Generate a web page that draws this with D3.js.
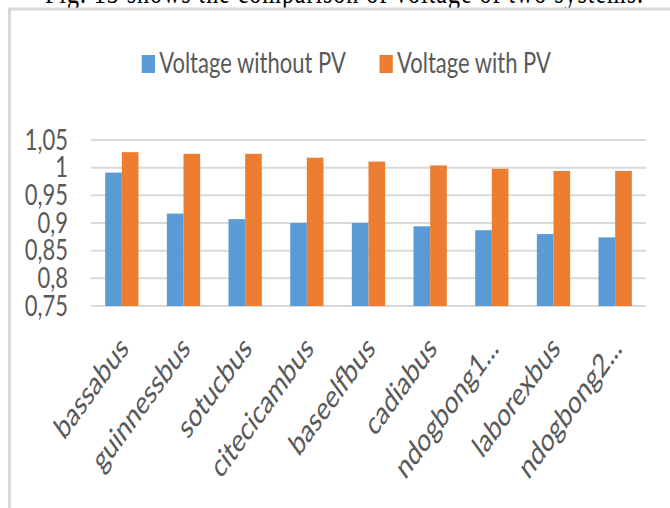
<!DOCTYPE html>
<html>
<head>
<meta charset="utf-8">
<script src="https://cdn.jsdelivr.net/npm/d3@7"></script>
<style>
  html, body { margin: 0; padding: 0; background: #fff; }
  svg { display: block; }
</style>
</head>
<body>
<svg id="chart" width="670" height="508"></svg>
<script>
const categories = ["bassabus","guinnessbus","sotucbus","citecicambus","baseelfbus","cadiabus","ndogbong1...","laborexbus","ndogbong2..."];
const seriesNames = ["Voltage without PV", "Voltage with PV"];
const withoutPV = [0.991, 0.917, 0.907, 0.900, 0.900, 0.894, 0.887, 0.880, 0.874];
const withPV    = [1.028, 1.025, 1.025, 1.018, 1.011, 1.004, 0.998, 0.994, 0.994];
const yTicks = [0.75, 0.8, 0.85, 0.9, 0.95, 1, 1.05];
const yTickLabels = ["0,75", "0,8", "0,85", "0,9", "0,95", "1", "1,05"];
const colors = ["#5B9BD5", "#ED7D31"];
const caption = "Fig. 13 shows the comparison of voltage of two systems.";

const SY = 1.32;
const FONT = "Lato, 'Open Sans', sans-serif";
const TXT = "#595959";

const svg = d3.select("#chart");
const plot = {left: 91, right: 646, top: 140, bottom: 306};

// caption (cut off at top)
svg.append("text")
  .attr("transform", `translate(45,3) scale(1,${SY})`)
  .attr("font-family", "'Liberation Serif', 'Times New Roman', serif")
  .attr("font-size", 24)
  .attr("fill", "#000")
  .attr("textLength", 598)
  .text(caption);

// frame
svg.append("path")
  .attr("d", "M9.5,508 L9.5,9 L670,9")
  .attr("fill", "none")
  .attr("stroke", "#d9d9d9")
  .attr("stroke-width", 3);

const y = d3.scaleLinear().domain([0.75, 1.05]).range([plot.bottom, plot.top]);
const x0 = d3.scaleBand().domain(categories).range([plot.left, plot.right])
  .paddingInner(0.46).paddingOuter(0.23);
const x1 = d3.scaleBand().domain(seriesNames).range([0, x0.bandwidth()]);

// gridlines
svg.append("g").selectAll("line").data(yTicks).join("line")
  .attr("x1", plot.left).attr("x2", plot.right)
  .attr("y1", d => y(d)).attr("y2", d => y(d))
  .attr("stroke", "#d9d9d9").attr("stroke-width", 2);

// y labels
svg.append("g").selectAll("text").data(yTicks).join("text")
  .attr("transform", d => `translate(68,${y(d) + 9.5}) scale(1,${SY})`)
  .attr("text-anchor", "end")
  .attr("font-family", FONT).attr("font-size", 22).attr("fill", TXT)
  .text((d, i) => yTickLabels[i]);

// bars
const data = categories.map((c, i) => ({c, vals: [withoutPV[i], withPV[i]]}));
const groups = svg.append("g").selectAll("g").data(data).join("g")
  .attr("transform", d => `translate(${x0(d.c)},0)`);
groups.selectAll("rect").data(d => d.vals.map((v, j) => ({v, s: seriesNames[j], j}))).join("rect")
  .attr("x", d => x1(d.s))
  .attr("width", x1.bandwidth())
  .attr("y", d => y(d.v))
  .attr("height", d => y(0.75) - y(d.v))
  .attr("fill", d => colors[d.j]);

// x labels
svg.append("g").selectAll("text").data(categories).join("text")
  .attr("transform", d => `translate(${x0(d) + x0.bandwidth() / 2 + 8},${plot.bottom + 44}) scale(1,1.38) rotate(-45)`)
  .attr("text-anchor", "end")
  .attr("font-family", FONT).attr("font-size", 23.5).attr("fill", TXT)
  .text(d => d);

// legend
const legendX = [141.7, 379.5];
const lg = svg.append("g").selectAll("g").data(seriesNames).join("g");
lg.append("rect")
  .attr("x", (d, i) => legendX[i]).attr("y", 55)
  .attr("width", 13.3).attr("height", 18)
  .attr("fill", (d, i) => colors[i]);
lg.append("text")
  .attr("transform", (d, i) => `translate(${legendX[i] + 17.5},73.3) scale(1,${SY})`)
  .attr("font-family", FONT).attr("font-size", 22).attr("fill", TXT)
  .text(d => d);
</script>
</body>
</html>
